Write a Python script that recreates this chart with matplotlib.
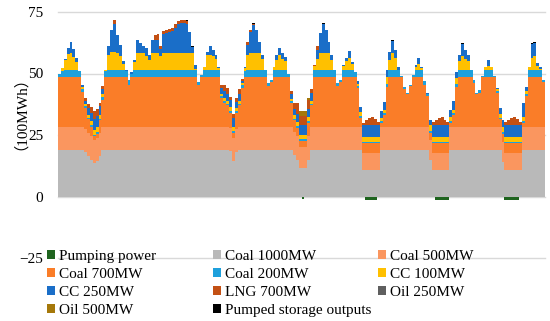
import numpy as np
import matplotlib.pyplot as plt
from matplotlib.patches import Patch

plt.rcParams['font.family'] = ['Liberation Serif', 'Noto Sans CJK JP']

# hourly generation, one line per day (100MWh)
coal_1000 = [
    19, 19, 19, 19, 19, 19, 19, 19, 19, 18, 16.5, 15, 13.5, 14.5, 16.5, 19, 19, 19, 19, 19, 19, 19, 19, 19,
    19, 19, 19, 19, 19, 19, 19, 19, 19, 19, 19, 19, 19, 19, 19, 19, 19, 19, 19, 19, 19, 19, 19, 19,
    19, 19, 19, 19, 19, 19, 19, 19, 19, 19, 19, 18.5, 14.5, 18, 19, 19, 19, 19, 19, 19, 19, 19, 19, 19,
    19, 19, 19, 19, 19, 19, 19, 19, 19, 17, 15, 11.5, 11.5, 11.5, 15, 19, 19, 19, 19, 19, 19, 19, 19, 19,
    19, 19, 19, 19, 19, 19, 19, 19, 19, 10.9, 10.9, 10.9, 10.9, 10.9, 10.9, 19, 19, 19, 19, 19, 19, 19, 19, 19,
    19, 19, 19, 19, 19, 19, 19, 19, 15, 10.9, 10.9, 10.9, 10.9, 10.9, 10.9, 19, 19, 19, 19, 19, 19, 19, 19, 19,
    19, 19, 19, 19, 19, 19, 19, 19, 19, 14, 10.9, 10.9, 10.9, 10.9, 10.9, 10.9, 19, 19, 19, 19, 19, 19, 19, 19,
]
coal_500 = [
    9.4, 9.4, 9.4, 9.4, 9.4, 9.4, 9.4, 9.4, 9.4, 9.4, 9.4, 9.4, 9.4, 9.4, 9.4, 9.4, 9.4, 9.4, 9.4, 9.4, 9.4, 9.4, 9.4, 9.4,
    9.4, 9.4, 9.4, 9.4, 9.4, 9.4, 9.4, 9.4, 9.4, 9.4, 9.4, 9.4, 9.4, 9.4, 9.4, 9.4, 9.4, 9.4, 9.4, 9.4, 9.4, 9.4, 9.4, 9.4,
    9.4, 9.4, 9.4, 9.4, 9.4, 9.4, 9.4, 9.4, 9.4, 9.4, 9.4, 9.4, 9.4, 9.4, 9.4, 9.4, 9.4, 9.4, 9.4, 9.4, 9.4, 9.4, 9.4, 9.4,
    9.4, 9.4, 9.4, 9.4, 9.4, 9.4, 9.4, 9.4, 9.4, 9.4, 9.4, 8.5, 8.5, 8.5, 9.4, 9.4, 9.4, 9.4, 9.4, 9.4, 9.4, 9.4, 9.4, 9.4,
    9.4, 9.4, 9.4, 9.4, 9.4, 9.4, 9.4, 9.4, 9.4, 6.8, 6.8, 6.8, 6.8, 6.8, 6.8, 9.4, 9.4, 9.4, 9.4, 9.4, 9.4, 9.4, 9.4, 9.4,
    9.4, 9.4, 9.4, 9.4, 9.4, 9.4, 9.4, 9.4, 8.0, 6.8, 6.8, 6.8, 6.8, 6.8, 6.8, 9.4, 9.4, 9.4, 9.4, 9.4, 9.4, 9.4, 9.4, 9.4,
    9.4, 9.4, 9.4, 9.4, 9.4, 9.4, 9.4, 9.4, 9.4, 8.0, 6.8, 6.8, 6.8, 6.8, 6.8, 6.8, 9.4, 9.4, 9.4, 9.4, 9.4, 9.4, 9.4, 9.4,
]
coal_700 = [
    20, 20, 20, 20, 20, 20, 20, 20, 14, 8.5, 5.5, 4, 1.5, 1.5, 5, 11, 20, 20, 20, 20, 20, 20, 20, 20,
    17.1, 20, 20, 20, 20, 20, 20, 20, 20, 20, 20, 20, 20, 20, 20, 20, 20, 20, 20, 20, 20, 20, 20, 20,
    17, 20, 20, 20, 20, 20, 20, 20, 11.6, 9.6, 8.6, 6.1, 2, 6.6, 8.6, 15.6, 20, 20, 20, 20, 20, 20, 20, 20,
    16.6, 18.1, 20, 20, 20, 20, 20, 20, 9.6, 4.6, 3.6, 2.5, 2.5, 2.5, 5.6, 8.6, 20, 20, 20, 20, 20, 20, 20, 20,
    16.6, 18.1, 20, 20, 20, 20, 20, 15.6, 3.6, 4, 4, 4, 4, 4, 4, 1.5, 4.6, 16.3, 20, 20, 20, 20, 20, 15.1,
    13.2, 16.6, 20, 20, 20, 20, 17, 12.6, 3, 4, 4, 4, 4, 4, 4, 1.6, 4.6, 16, 20, 20, 20, 20, 20, 17.6,
    13.2, 13.6, 20, 20, 20, 20, 20, 13.6, 3, 3.5, 4, 4, 4, 4, 4, 4, 1.6, 12.6, 20, 20, 20, 20, 20, 18.1,
]
coal_200 = [
    1.5, 2.8, 3.1, 3.1, 3.1, 3.1, 3.1, 2.6, 1.2, 0.8, 0.7, 0.7, 0.7, 0.7, 0.7, 1.2, 2.5, 3.1, 3.1, 3.1, 3.1, 3.1, 3.1, 2.5,
    1.9, 1.5, 3.1, 3.1, 3.1, 3.1, 3.1, 3.1, 3.1, 3.1, 3.1, 3.1, 3.1, 3.1, 3.1, 3.1, 3.1, 3.1, 3.1, 3.1, 3.1, 3.1, 3.1, 3.1,
    1.2, 1.1, 3.1, 3.1, 3.1, 3.1, 3.1, 3.1, 0.8, 0.8, 0.8, 0.7, 0.7, 0.8, 0.8, 1.2, 2.5, 3.1, 3.1, 3.1, 3.1, 3.1, 3.1, 3.1,
    1.0, 0.9, 3.1, 3.1, 3.1, 3.1, 3.1, 1.6, 0.8, 0.7, 0.7, 0.7, 0.7, 0.7, 0.7, 0.8, 3.1, 3.1, 3.1, 3.1, 3.1, 3.1, 3.1, 3.1,
    1.0, 0.9, 3.1, 3.1, 3.1, 3.1, 2.1, 1.0, 0.7, 0.6, 0.6, 0.6, 0.6, 0.6, 0.6, 0.7, 0.8, 1.2, 3.1, 3.1, 3.1, 3.1, 0.4, 1.2,
    0.4, 0.4, 1.1, 3.1, 3.1, 3.1, 1.4, 0.5, 0.6, 0.6, 0.6, 0.6, 0.6, 0.6, 0.6, 0.7, 0.8, 1.2, 3.1, 3.1, 3.1, 3.1, 3.1, 1.4,
    0.4, 1.4, 0.4, 3.1, 3.1, 3.1, 0.4, 0.8, 0.6, 0.6, 0.6, 0.6, 0.6, 0.6, 0.6, 0.6, 0.7, 0.8, 3.1, 3.1, 3.1, 3.1, 3.1, 0.9,
]
cc_100 = [
    0, 1, 3.8, 6.5, 6.8, 5.2, 3, 0, 0.8, 0.8, 1.2, 1.5, 2, 2, 1.5, 1.2, 0.6, 6, 7.2, 7.2, 6.8, 5.5, 2.5, 0,
    0, 0, 3.3, 6.7, 6.7, 6.7, 5.5, 4, 6.7, 6.7, 6.7, 5.5, 6.7, 6.7, 6.7, 6.7, 6.7, 6.7, 6.7, 6.7, 6.7, 6.7, 6.7, 0.5,
    0, 0, 1.3, 6, 6, 5.5, 4.5, 0.8, 1, 1.2, 1.2, 1.5, 1.8, 1.2, 1.2, 0.8, 1.5, 6, 6.7, 6.7, 6.7, 6.7, 4.5, 0,
    0, 0, 1.3, 4, 6, 4.5, 3.5, 0, 1, 1.3, 1.5, 2, 2, 2, 1.5, 1.2, 1.5, 4.5, 6.7, 6.7, 6.7, 6.7, 4, 0,
    0, 0, 1.5, 3.5, 5, 2.5, 0, 0.8, 1.5, 2, 2, 2, 2, 2, 2, 1.2, 1.5, 2.5, 4, 6.7, 5, 0, 0, 0,
    0, 0, 0, 1, 2.5, 0.8, 0, 0.3, 2.5, 2, 2, 2, 2, 2, 2, 1.5, 1.5, 2.5, 3.5, 5.5, 4.5, 3.5, 0, 0,
    0, 0, 0, 1, 1.5, 1, 0, 0.8, 1.5, 2.2, 2, 2, 2, 2, 2, 2, 1.5, 1, 1, 5, 5.5, 1.5, 0.5, 0,
]
cc_250 = [
    0, 0, 0.7, 2.5, 4.4, 3.3, 2, 0, 0.8, 1.5, 2.5, 3.5, 4.5, 4.5, 3.5, 2, 0, 3.5, 9, 11.4, 7.5, 4.6, 0.9, 0.6,
    0, 0.9, 0.7, 5.4, 4.1, 2.8, 3.3, 2.1, 5.4, 5.5, 5.4, 2.8, 7.9, 8.3, 8.7, 9, 10.4, 11.8, 12.2, 12.2, 12, 8.8, 2.5, 1.5,
    0, 0, 0, 1.4, 3.5, 2.6, 1.6, 0.5, 2.2, 3, 2.5, 3, 3.5, 2.5, 2.5, 1, 0.4, 4, 8.5, 11.7, 9.5, 4.8, 1.6, 0,
    0, 0, 0, 2.1, 2.8, 2.2, 1.9, 0, 2, 2.5, 3.3, 4, 4, 4, 3.5, 3, 0, 3.5, 8.2, 12, 9.5, 4.8, 2.1, 0,
    0, 0, 0.5, 1.5, 2.5, 0.5, 0, 1.2, 2, 4.8, 4.8, 4.8, 4.8, 4.8, 4.8, 2.8, 3.3, 3.1, 3.4, 5.2, 3.1, 1.3, 0, 0,
    0, 0, 0, 1, 2.2, 0.5, 0, 0.2, 2.1, 4.8, 4.8, 4.8, 4.8, 4.8, 4.8, 2.8, 3.7, 2.7, 2.6, 5, 3.6, 2.6, 0, 0,
    0, 0, 0, 0.3, 2.5, 0.3, 0, 0.4, 2.4, 2.9, 4.8, 4.8, 4.8, 4.8, 4.8, 4.8, 5.8, 1.9, 0.3, 5.5, 5.6, 1.2, 0.8, 0,
]
lng_700 = [
    0, 0, 0, 0, 0, 0, 0, 0, 0, 1.2, 1.8, 2.3, 3, 2.8, 1.5, 1, 0, 0, 0, 1.5, 0, 0, 0, 0,
    0, 0, 0, 0, 0, 0, 0, 0, 0, 2, 2.4, 1.2, 1.2, 1.2, 1.2, 1.2, 1.4, 1.4, 1.4, 1.2, 1, 0, 0, 0,
    0, 0, 0, 0, 0, 0, 0, 0, 1.4, 2.4, 2.5, 1.3, 1.5, 1.5, 2, 0.6, 0, 1.5, 1, 0.3, 0, 0, 0, 0,
    0, 0, 0, 0, 0, 0, 0, 0, 0.9, 2.5, 4.5, 3.4, 3.4, 3.4, 3.5, 1.9, 0.5, 1.5, 0, 0, 0, 0, 0, 0,
    0, 0, 0, 0, 0, 0, 0, 0, 0, 0.8, 2, 3, 3.4, 2.5, 1.2, 0, 0, 0, 0, 0, 0, 0, 0, 0,
    0, 0, 0, 0, 0, 0, 0, 0, 0, 1, 2.2, 3, 3.2, 2.2, 1, 0, 0, 0, 0, 0, 0, 0, 0, 0,
    0, 0, 0, 0, 0, 0, 0, 0, 0, 0, 1, 2.2, 3, 3.4, 2.4, 1.2, 0, 0, 0, 0, 0, 0, 0, 0,
]
oil_250 = [
    0, 0, 0, 0, 0, 0, 0, 0, 0, 0, 0, 0, 0, 0, 0, 0, 0, 0, 0, 0, 0, 0, 0, 0,
    0, 0, 0, 0, 0, 0, 0, 0, 0, 0, 0, 0, 0, 0, 0, 0, 0, 0, 0, 0, 0, 0, 0, 0,
    0, 0, 0, 0, 0, 0, 0, 0, 0, 0, 0, 0, 0, 0, 0, 0, 0, 0, 0, 0, 0, 0, 0, 0,
    0, 0, 0, 0, 0, 0, 0, 0, 0, 0, 0, 0, 0, 0, 0, 0, 0, 0, 0, 0, 0, 0, 0, 0,
    0, 0, 0, 0, 0, 0, 0, 0, 0, 0, 0, 0, 0, 0, 0, 0, 0, 0, 0, 0, 0, 0, 0, 0,
    0, 0, 0, 0, 0, 0, 0, 0, 0, 0, 0, 0, 0, 0, 0, 0, 0, 0, 0, 0, 0, 0, 0, 0,
    0, 0, 0, 0, 0, 0, 0, 0, 0, 0, 0, 0, 0, 0, 0, 0, 0, 0, 0, 0, 0, 0, 0, 0,
]
oil_500 = [
    0, 0, 0, 0, 0, 0, 0, 0, 0, 0, 0, 0, 0, 0, 0, 0, 0, 0, 0, 0, 0, 0, 0, 0,
    0, 0, 0, 0, 0, 0, 0, 0, 0, 0, 0, 0, 0, 0, 0, 0, 0, 0, 0, 0, 0, 0, 0, 0,
    0, 0, 0, 0, 0, 0, 0, 0, 0, 0, 0, 0, 0, 0, 0, 0, 0, 0, 0, 0, 0, 0, 0, 0,
    0, 0, 0, 0, 0, 0, 0, 0, 0, 0, 0, 2, 2, 2, 0.8, 0, 0, 0, 0, 0, 0, 0, 0, 0,
    0, 0, 0, 0, 0, 0, 0, 0, 0, 0, 0, 0, 0, 0, 0, 0, 0, 0, 0, 0, 0, 0, 0, 0,
    0, 0, 0, 0, 0, 0, 0, 0, 0, 0, 0, 0, 0, 0, 0, 0, 0, 0, 0, 0, 0, 0, 0, 0,
    0, 0, 0, 0, 0, 0, 0, 0, 0, 0, 0, 0, 0, 0, 0, 0, 0, 0, 0, 0, 0, 0, 0, 0,
]
pumped_out = [
    0, 0, 0, 0, 0, 0, 0, 0, 0, 0, 0, 0, 0, 0, 0, 0, 0, 0, 0, 0.2, 0, 0, 0, 0,
    0, 0, 0, 0, 0, 0, 0, 0, 0, 0, 0, 0, 0, 0, 0, 0, 0, 0, 0, 0.2, 0.4, 0, 0.3, 0,
    0, 0, 0, 0, 0, 0, 0, 0, 0, 0, 0, 0, 0, 0, 0, 0, 0, 0, 0, 0.2, 0, 0, 0, 0,
    0, 0, 0, 0, 0, 0, 0, 0, 0, 0, 0, 0, 0, 0, 0, 0, 0, 0, 0, 0.2, 0, 0, 0, 0,
    0, 0, 0, 0, 0, 0, 0, 0, 0, 0, 0, 0, 0, 0, 0, 0, 0, 0, 0, 0.2, 0, 0, 0, 0,
    0, 0, 0, 0, 0, 0, 0, 0, 0, 0, 0, 0, 0, 0, 0, 0, 0, 0, 0, 0.3, 0, 0, 0, 0,
    0, 0, 0, 0, 0, 0, 0, 0, 0, 0, 0, 0, 0, 0, 0, 0, 0, 0, 0, 0.3, 0.2, 0, 0, 0,
]
pumping = [
    0, 0, 0, 0, 0, 0, 0, 0, 0, 0, 0, 0, 0, 0, 0, 0, 0, 0, 0, 0, 0, 0, 0, 0,
    0, 0, 0, 0, 0, 0, 0, 0, 0, 0, 0, 0, 0, 0, 0, 0, 0, 0, 0, 0, 0, 0, 0, 0,
    0, 0, 0, 0, 0, 0, 0, 0, 0, 0, 0, 0, 0, 0, 0, 0, 0, 0, 0, 0, 0, 0, 0, 0,
    0, 0, 0, 0, 0, 0, 0, 0, 0, 0, 0, 0, -1.0, 0, 0, 0, 0, 0, 0, 0, 0, 0, 0, 0,
    0, 0, 0, 0, 0, 0, 0, 0, 0, 0, -1.5, -1.5, -1.5, -1.5, 0, 0, 0, 0, 0, 0, 0, 0, 0, 0,
    0, 0, 0, 0, 0, 0, 0, 0, 0, 0, -1.5, -1.5, -1.5, -1.5, -1.5, 0, 0, 0, 0, 0, 0, 0, 0, 0,
    0, 0, 0, 0, 0, 0, 0, 0, 0, 0, -1.5, -1.5, -1.5, -1.5, -1.5, 0, 0, 0, 0, 0, 0, 0, 0, 0,
]
y_ticks = [-25, 0, 25, 50, 75]

# stacking order bottom -> top
stack = [
    ("Coal 1000MW", coal_1000, "#B9B9B9"),
    ("Coal 500MW", coal_500, "#FA965F"),
    ("Coal 700MW", coal_700, "#FA7D28"),
    ("Coal 200MW", coal_200, "#1EA0DC"),
    ("CC 100MW", cc_100, "#FFC000"),
    ("CC 250MW", cc_250, "#1A6EC8"),
    ("LNG 700MW", lng_700, "#C35014"),
    ("Oil 250MW", oil_250, "#5F5F5F"),
    ("Oil 500MW", oil_500, "#A5780A"),
    ("Pumped storage outputs", pumped_out, "#000000"),
]
pump_color = "#1F641F"

hours = np.arange(len(coal_1000))

fig = plt.figure(figsize=(5.5, 3.21), dpi=100)
ax = fig.add_axes([58 / 550, 63 / 321, 487 / 550, 246 / 321])

# horizontal gridlines (drawn unclipped so the -25 and 75 lines show fully)
for yv in y_ticks:
    ax.axhline(yv, color='#D9D9D9', linewidth=1.0, zorder=0, clip_on=False)

bottom = np.zeros(len(hours))
for name, vals, col in stack:
    vals = np.array(vals, dtype=float)
    ax.bar(hours, vals, bottom=bottom, width=1.0, color=col, linewidth=0,
           antialiased=False, zorder=2)
    bottom += vals
ax.bar(hours, pumping, width=1.0, color=pump_color, linewidth=0,
       antialiased=False, zorder=2)

ax.set_xlim(-0.5, len(hours) - 0.5)
ax.set_ylim(-25, 75)
ax.set_yticks(y_ticks)
ax.set_xticks([])
ax.tick_params(axis='y', length=0, pad=10.5, labelsize=11)
for s in ax.spines.values():
    s.set_visible(False)

fig.text(12.5 / 550, 1 - 106 / 321, '（100MWh）', rotation=90, ha='center',
         va='center', fontsize=11)

# legend: three evenly spaced columns, filled row by row
colors = dict((n, c) for n, _, c in stack)
colors["Pumping power"] = pump_color
columns = [
    ["Pumping power", "Coal 700MW", "CC 250MW", "Oil 500MW"],
    ["Coal 1000MW", "Coal 200MW", "LNG 700MW", "Pumped storage outputs"],
    ["Coal 500MW", "CC 100MW", "Oil 250MW"],
]
col_x = [47 / 550, 213 / 550, 378 / 550]
for cx, names in zip(col_x, columns):
    handles = [Patch(facecolor=colors[n], edgecolor='none', label=n) for n in names]
    leg = fig.legend(handles=handles, loc='upper left', bbox_to_anchor=(cx, 1 - 250 / 321),
                     frameon=False, fontsize=11, borderpad=0, borderaxespad=0,
                     handlelength=0.5, handleheight=0.5, handletextpad=0.3,
                     labelspacing=0.32)

fig.savefig('out.png', dpi=100)
